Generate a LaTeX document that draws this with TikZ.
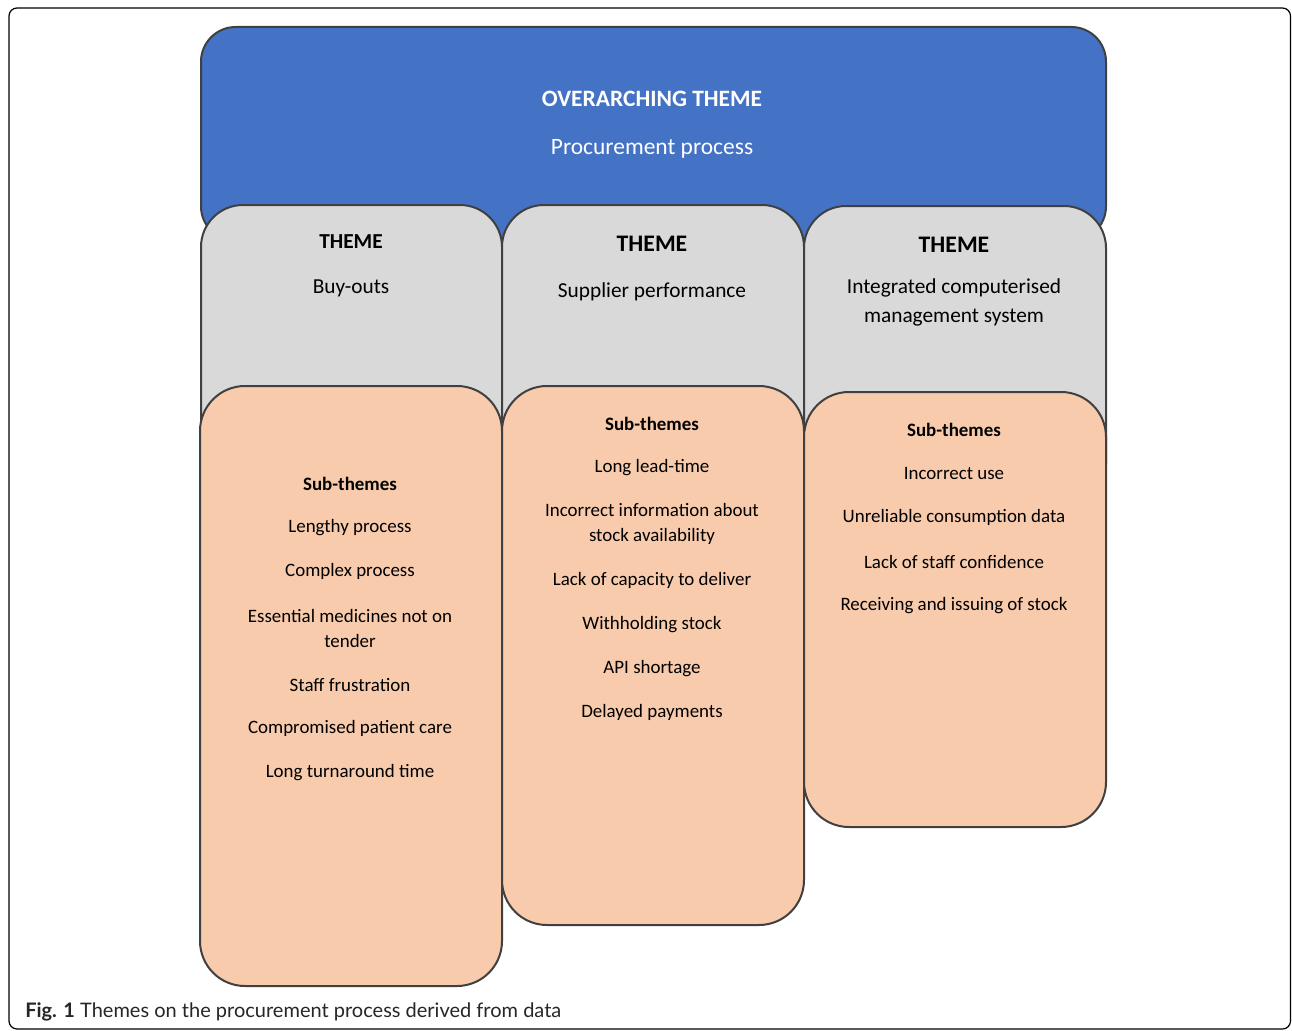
\documentclass[tikz,border=0pt]{standalone}
\usepackage{fontspec}
\setmainfont{Carlito}
\newfontfamily\capfont{Lato}
\definecolor{bluefill}{HTML}{4472C4}
\definecolor{greyfill}{HTML}{D9D9D9}
\definecolor{orangefill}{HTML}{F8CBAD}
\definecolor{edge}{HTML}{404040}
\tikzset{
  box/.style={draw=edge, line width=1.5pt, inner sep=0pt, anchor=north west},
  sz/.style 2 args={minimum width=#1*0.75pt, minimum height=#2*0.75pt},
  bluebox/.style={box, fill=bluefill, rounded corners=26pt},
  greybox/.style={box, fill=greyfill, rounded corners=31.5pt},
  orangebox/.style={box, fill=orangefill, rounded corners=33.75pt},
  txtbase/.style={inner sep=0pt, yshift=-1.2pt},
  toptxt/.style={txtbase, text=white, font=\fontsize{17.6}{22}\selectfont},
  themehead/.style={txtbase, font=\bfseries\fontsize{17.8}{22}\selectfont},
  themetxt/.style={txtbase, font=\fontsize{16}{21}\selectfont, align=center},
  subtxt/.style={txtbase, font=\fontsize{14.2}{18.75}\selectfont, align=center},
  subhead/.style={subtxt, font=\bfseries\fontsize{14.2}{18.75}\selectfont},
}
\begin{document}
\begin{tikzpicture}[x=0.75pt,y=-0.75pt]
\useasboundingbox (0,0) rectangle (1292,1031);
% outer frame
\draw[line width=0.9pt, rounded corners=6pt] (9,8) rectangle (1290.5,1029);
% overarching
\node[bluebox, sz={905}{214}] (over) at (200,26) {};
\node[toptxt, font=\bfseries\fontsize{17.6}{22}\selectfont] (overhead) at (652,97) {OVERARCHING THEME};
\node[toptxt] (overtxt) at (652,147) {Procurement process};
% themes
\node[greybox, sz={301}{300}] (t1) at (200,204) {};
\node[greybox, sz={302}{300}] (t2) at (501,204) {};
\node[greybox, sz={302}{300}] (t3) at (803,205) {};
\node[themehead, font=\bfseries\fontsize{16}{21}\selectfont] (t1h) at (351,240) {THEME};
\node[themetxt] (t1t) at (351,287) {Buy-outs};
\node[themehead] (t2h) at (652,242) {THEME};
\node[themetxt] (t2t) at (652,290) {Supplier performance};
\node[themehead] (t3h) at (954,243) {THEME};
\node[themetxt, font=\fontsize{16}{21.4}\selectfont] (t3t) at (954,301) {Integrated computerised\\management system};
% sub-themes
\node[orangebox, sz={302}{600}] (s1) at (199,385) {};
\node[orangebox, sz={302}{539}] (s2) at (501,385) {};
\node[orangebox, sz={302}{435}] (s3) at (803,391) {};
% left
\node[subhead] (s1h) at (350,482) {Sub-themes};
\node[subtxt] (s1a) at (350,526) {Lengthy process};
\node[subtxt] (s1b) at (350,570) {Complex process};
\node[subtxt] (s1c) at (350,626.5) {Essential medicines not on\\tender};
\node[subtxt] (s1d) at (350,683) {Staff frustration};
\node[subtxt] (s1e) at (350,727) {Compromised patient care};
\node[subtxt] (s1f) at (350,771) {Long turnaround time};
% middle
\node[subhead] (s2h) at (652,422) {Sub-themes};
\node[subtxt] (s2a) at (652,466) {Long lead-time};
\node[subtxt] (s2b) at (652,522.5) {Incorrect information about\\stock availability};
\node[subtxt] (s2c) at (652,579) {Lack of capacity to deliver};
\node[subtxt] (s2d) at (652,623) {Withholding stock};
\node[subtxt] (s2e) at (652,667) {API shortage};
\node[subtxt] (s2f) at (652,711) {Delayed payments};
% right
\node[subhead] (s3h) at (954,428) {Sub-themes};
\node[subtxt] (s3a) at (954,472) {Incorrect use};
\node[subtxt] (s3b) at (954,516) {Unreliable consumption data};
\node[subtxt] (s3c) at (954,560) {Lack of staff confidence};
\node[subtxt] (s3d) at (954,604) {Receiving and issuing of stock};
% caption
\node[anchor=west, inner sep=0pt, font=\capfont\fontsize{15}{18}\selectfont, text=black!85] (cap) at (25,1012) {\textbf{Fig. 1} Themes on the procurement process derived from data};
\end{tikzpicture}
\end{document}
